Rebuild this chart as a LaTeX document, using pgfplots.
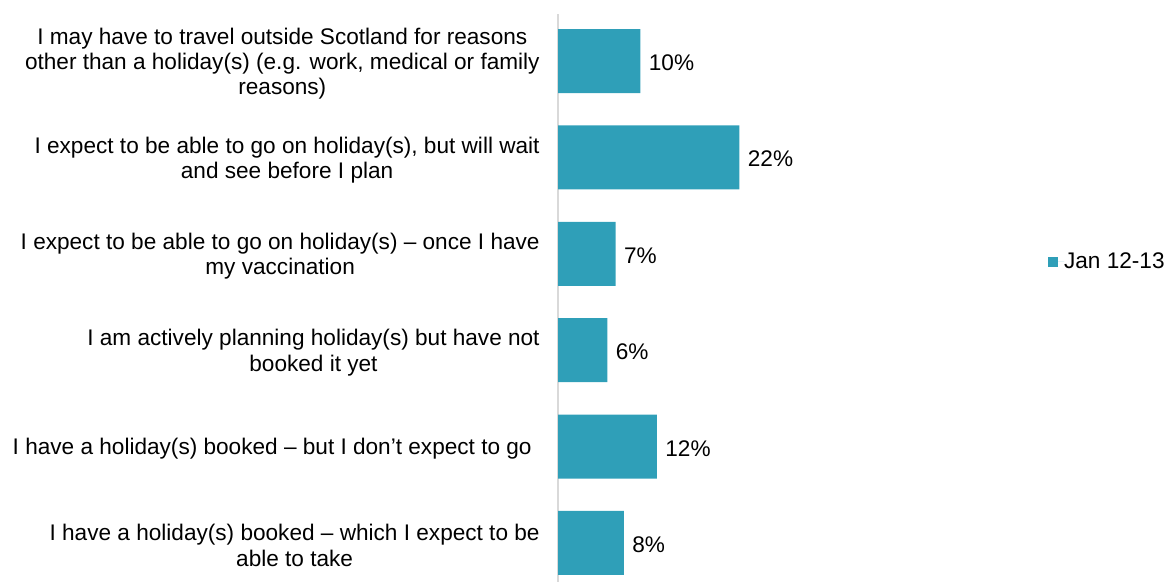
\documentclass[border=0pt]{standalone}
\usepackage{pgfplots}
\pgfplotsset{compat=1.18}
\usepackage{fontspec}
\setmainfont{Liberation Sans}
\definecolor{barcol}{HTML}{2F9FB8}
\definecolor{axcol}{HTML}{D9D9D9}
\begin{document}
\fontsize{11.3bp}{12.6bp}\selectfont
\begin{tikzpicture}
\path[use as bounding box] (0,0) rectangle (584bp,291.5bp);
\begin{axis}[
  at={(279bp,0.5bp)}, anchor=south west,
  scale only axis, width=221bp, height=284bp,
  xbar, bar width=0.664,
  xmin=0, xmax=53.58,
  ymin=-0.488, ymax=5.405, y dir=reverse,
  axis x line=none,
  axis y line*=left,
  y axis line style={draw=axcol, line width=0.75bp, -},
  ytick={0,1,2,3,4,5},
  yticklabels={
    {I may have to travel outside Scotland for reasons\\other than a holiday(s) (e.g. work, medical or family\\reasons)},
    {I expect to be able to go on holiday(s), but will wait\\and see before I plan},
    {I expect to be able to go on holiday(s) – once I have\\my vaccination},
    {I am actively planning holiday(s) but have not\\booked it yet},
    {I have a holiday(s) booked – but I don’t expect to go\rule{4bp}{0pt}},
    {I have a holiday(s) booked – which I expect to be\\able to take}},
  major tick length=0pt,
  yticklabel style={align=center, inner sep=0pt, xshift=-9bp, yshift=-1.2bp},
  /pgf/number format/assume math mode=true,
  point meta=x,
  nodes near coords={\pgfmathprintnumber{\pgfplotspointmeta}\%},
  nodes near coords style={anchor=west, inner sep=0pt, xshift=4bp, yshift=-0.8bp, text=black},
  legend style={at={(1.3733,0.5634)}, anchor=east, draw=none, fill=none, inner sep=0pt,
    nodes={inner sep=0pt}},
  legend image code/.code={\fill[barcol] (0bp,-2.5bp) rectangle (5bp,2.5bp); \path (0bp,0bp) -- (8bp,0bp);},
]
\addplot[fill=barcol, draw=none] coordinates {(10,0) (22,1) (7,2) (6,3) (12,4) (8,5)};
\addlegendentry{Jan 12-13}
\end{axis}
\end{tikzpicture}
\end{document}
